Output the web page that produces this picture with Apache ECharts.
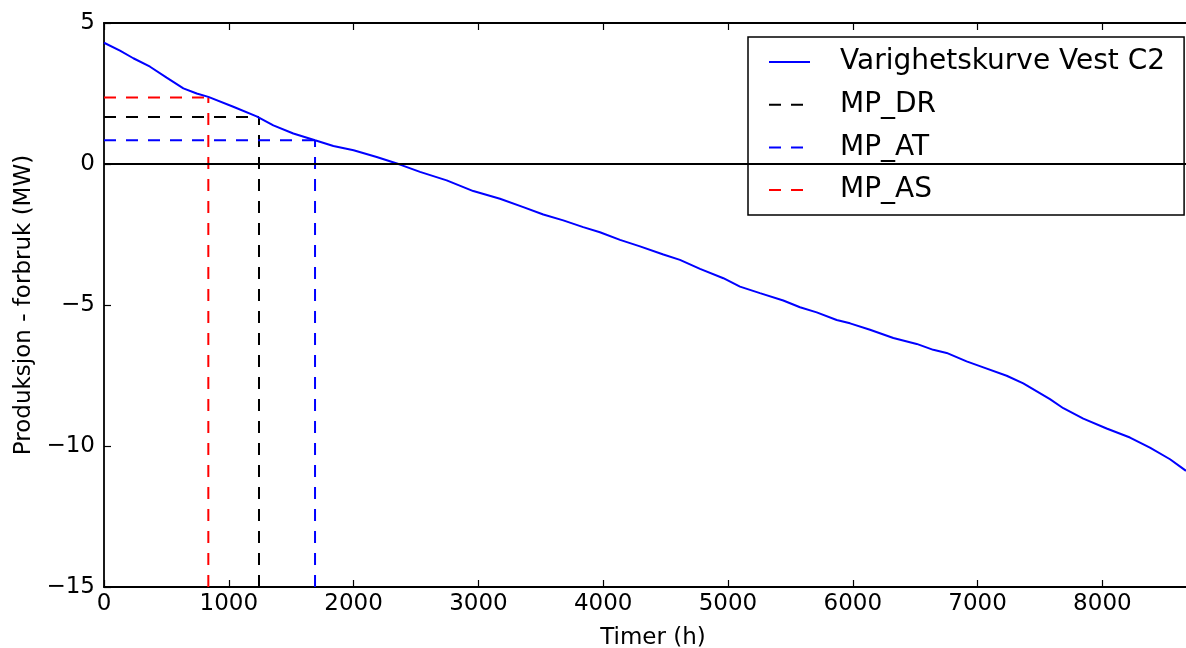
<!DOCTYPE html>
<html><head><meta charset="utf-8">
<script src="https://cdn.jsdelivr.net/npm/echarts@6/dist/echarts.min.js"></script>
<style>html,body{margin:0;padding:0;background:#fff}#c{width:1186px;height:648px}</style>
</head><body><div id="c"></div>
<script>
const curveName = 'Varighetskurve Vest C2';
const curveHours = [0,128,235,369,502,636,743,836,1036,1223,1357,1517,1691,1838,2000,2185,2372,2532,2746,2959,3173,3360,3520,3680,3840,3974,4135,4295,4482,4615,4776,4963,5096,5256,5443,5577,5711,5871,5978,6138,6325,6512,6645,6752,6912,7046,7233,7366,7580,7687,7847,8034,8221,8381,8542,8670];
const curveValues = [4.30,4.02,3.75,3.45,3.06,2.68,2.50,2.38,2.03,1.69,1.37,1.08,0.84,0.64,0.49,0.25,-0.02,-0.28,-0.58,-0.96,-1.23,-1.53,-1.79,-2.00,-2.24,-2.42,-2.69,-2.92,-3.21,-3.40,-3.72,-4.05,-4.35,-4.58,-4.84,-5.08,-5.26,-5.53,-5.65,-5.88,-6.17,-6.38,-6.59,-6.70,-7.00,-7.21,-7.51,-7.78,-8.34,-8.66,-9.03,-9.38,-9.70,-10.06,-10.47,-10.88];
const mpNames = ['MP_DR','MP_AT','MP_AS'];
const mpHours = [1242,1691,836];
const mpLevels = [1.67,0.84,2.36];
const mpColors = ['#000000','#0000ff','#ff0000'];
const xTicks = [0,1000,2000,3000,4000,5000,6000,7000,8000];
const xMin = 0, xMax = 8670;
const yMin = -15, yMax = 5, yStep = 5;
const zeroLevel = 0;
const xTitle = 'Timer (h)';
const yTitle = 'Produksjon - forbruk (MW)';

const FONT = 'DejaVu Sans';
const chart = echarts.init(document.getElementById('c'), null, {renderer:'canvas'});

const series = [{
  name: curveName, type: 'line', showSymbol: false, symbol: 'none',
  data: curveHours.map((h,i)=>[h, curveValues[i]]),
  lineStyle: {color:'#0000ff', width:2}, itemStyle:{color:'#0000ff'},
  z: 3,
  markLine: {silent:true, symbol:'none', label:{show:false}, animation:false,
    lineStyle:{color:'#000', width:1.8, type:'solid'}, emphasis:{disabled:true},
    data:[{yAxis: zeroLevel}]}
}];
mpNames.forEach((n,i)=>{
  const st = {color: mpColors[i], width: 2, type: [12,10]};
  series.push({name:n, type:'line', symbol:'none', showSymbol:false, z:2,
    data:[[xMin, mpLevels[i]],[mpHours[i], mpLevels[i]]], lineStyle:st, itemStyle:{color:mpColors[i]}});
  series.push({name:n, type:'line', symbol:'none', showSymbol:false, z:2,
    data:[[mpHours[i], yMin],[mpHours[i], mpLevels[i]]], lineStyle:st, itemStyle:{color:mpColors[i]}});
});

const axisLine = {show:true, onZero:false, lineStyle:{color:'#000', width:1.8}};
chart.setOption({
  animation: false,
  backgroundColor: '#fff',
  textStyle: {fontFamily: FONT},
  grid: {left:104, right:0, top:23, bottom:61, containLabel:false, outerBoundsMode:'none'},
  legend: {
    orient:'vertical', left:748, top:37, padding:[10,19,10,20],
    itemWidth:41, itemHeight:14, itemGap:12.7, selectedMode:false,
    itemStyle:{opacity:0},
    borderColor:'#000', borderWidth:1.5, backgroundColor:'#fff', borderRadius:0,
    textStyle:{fontFamily:FONT, fontSize:28, color:'#000', lineHeight:30, padding:[0,0,0,25]},
    data:[curveName, ...mpNames]
  },
  xAxis: [{
    type:'value', min:xMin, max:xMax, position:'bottom',
    name:xTitle, nameLocation:'middle', nameGap:40,
    nameTextStyle:{fontFamily:FONT, fontSize:23, color:'#000', padding:[0,0,0,16]},
    axisLine, splitLine:{show:false},
    axisTick:{show:true, inside:true, length:7, customValues:xTicks, lineStyle:{color:'#000', width:1.2}},
    axisLabel:{customValues:xTicks, fontFamily:FONT, fontSize:23, color:'#000', margin:6,
      formatter: v => String(v)}
  },{
    type:'value', min:xMin, max:xMax, position:'top',
    axisLine, splitLine:{show:false},
    axisTick:{show:true, inside:true, length:7, customValues:xTicks, lineStyle:{color:'#000', width:1.2}},
    axisLabel:{show:false}
  }],
  yAxis: {
    type:'value', min:yMin, max:yMax, interval:yStep,
    name:yTitle, nameLocation:'middle', nameGap:64,
    nameTextStyle:{fontFamily:FONT, fontSize:23, color:'#000'},
    axisLine, splitLine:{show:false},
    axisTick:{show:true, inside:true, length:7, lineStyle:{color:'#000', width:1.2}},
    axisLabel:{fontFamily:FONT, fontSize:23, color:'#000', margin:9,
      formatter: v => String(v).replace('-', '\u2212')}
  },
  series
});
</script></body></html>
